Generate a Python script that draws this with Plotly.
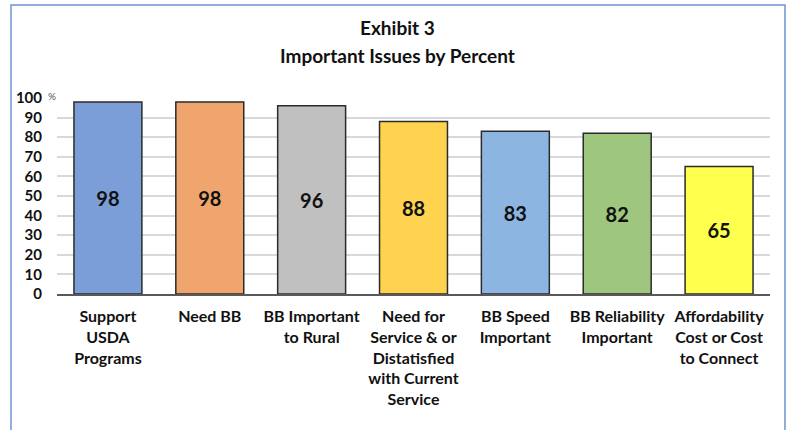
import plotly.graph_objects as go

categories = [
    "Support<br>USDA<br>Programs",
    "Need BB",
    "BB Important<br>to Rural",
    "Need for<br>Service & or<br>Distatisfied<br>with Current<br>Service",
    "BB Speed<br>Important",
    "BB Reliability<br>Important",
    "Affordability<br>Cost or Cost<br>to Connect",
]
values = [98, 98, 96, 88, 83, 82, 65]
bar_colors = ["#7B9ED9", "#F0A56E", "#C0C0C0", "#FFD350", "#8DB5E1", "#9EC67E", "#FFFF4D"]
y_ticks = [0, 10, 20, 30, 40, 50, 60, 70, 80, 90, 100]
title_lines = ["Exhibit 3", "Important Issues by Percent"]

FONT = "Lato"

fig = go.Figure(
    go.Bar(
        x=categories,
        y=values,
        width=0.667,
        marker=dict(color=bar_colors, line=dict(color="#2b2b2b", width=1.5)),
        text=[str(v) for v in values],
        textposition="inside",
        insidetextanchor="middle",
        textangle=0,
        textfont=dict(family=FONT, size=20, color="#111111", weight="bold"),
        hoverinfo="skip",
    )
)

fig.update_layout(
    width=789,
    height=430,
    margin=dict(l=57, r=19, t=98, b=136),
    paper_bgcolor="white",
    plot_bgcolor="white",
    showlegend=False,
    bargap=0.333,
    font=dict(family=FONT, color="#111111"),
)

fig.update_xaxes(
    showgrid=False,
    showline=True,
    linecolor="#595959",
    linewidth=1.5,
    ticks="outside",
    ticklen=7,
    tickcolor="rgba(0,0,0,0)",
    tickfont=dict(family=FONT, size=16, color="#111111", weight="bold"),
    tickangle=0,
)

fig.update_yaxes(
    range=[0, 100],
    tickvals=y_ticks,
    showgrid=True,
    gridcolor="#D9D9D9",
    gridwidth=1.5,
    zeroline=False,
    showline=False,
    ticklabelstandoff=14,
    tickfont=dict(family=FONT, size=15, color="#111111", weight="bold"),
)

# Title lines
fig.add_annotation(text=title_lines[0], x=0.478, y=1.362, xref="paper", yref="paper",
                   xanchor="center", yanchor="middle", showarrow=False,
                   font=dict(family=FONT, size=19, color="#111111", weight="bold"))
fig.add_annotation(text=title_lines[1], x=0.478, y=1.219, xref="paper", yref="paper",
                   xanchor="center", yanchor="middle", showarrow=False,
                   font=dict(family=FONT, size=19, color="#111111", weight="bold"))

# percent unit marker
fig.add_annotation(text="%", x=0, y=100, xref="paper", yref="y", xanchor="right", yanchor="bottom",
                   xshift=1, yshift=-6, showarrow=False,
                   font=dict(family=FONT, size=10, color="#555555"))

# outer frame
fig.add_shape(type="rect", xref="paper", yref="paper",
              x0=-0.0645, x1=1.021, y0=-0.80, y1=1.474,
              line=dict(color="#6F93D2", width=1.5), fillcolor="rgba(0,0,0,0)", layer="above")

fig.write_html("out.html")
